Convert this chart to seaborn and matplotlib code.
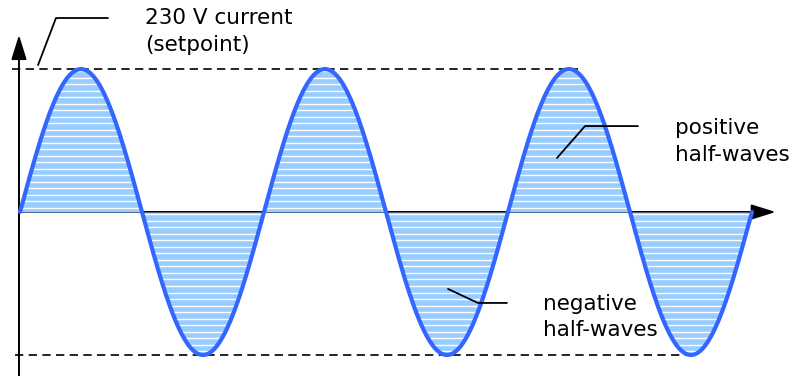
import numpy as np
import pandas as pd
import matplotlib.pyplot as plt
import seaborn as sns

# ---- values ----
cycles = 3                 # three full periods are drawn
setpoint = 1.0             # peak of the current, normalised to the setpoint
labels = ['230 V current\n(setpoint)', 'positive\nhalf-waves', 'negative\nhalf-waves']

phase = np.linspace(0, 360 * cycles, 1201)          # degrees
current = setpoint * np.sin(np.radians(phase))
df = pd.DataFrame({'phase': phase, 'current': current})

sns.set_style('white')
plt.rcParams['font.family'] = ['DejaVu Sans']

line_blue = '#3366ff'
fill_blue = '#99ccff'
ink = 'black'

fig = plt.figure(figsize=(7.94, 3.76), dpi=100)
ax = fig.add_axes([0, 0, 1, 1])

# light blue area with white horizontal stripes
fill = ax.fill_between(df['phase'], df['current'], 0, color=fill_blue, lw=0, zorder=2)
stripes = ax.hlines(np.arange(-1.2, 1.2, 0.0455), 0, 360 * cycles,
                    colors='white', lw=1.0, zorder=3)
stripes.set_clip_path(fill.get_paths()[0], ax.transData)

# the wave itself
sns.lineplot(data=df, x='phase', y='current', color=line_blue, lw=3,
             sort=False, estimator=None, ax=ax, zorder=4)

# axes drawn as arrows
arrow = dict(arrowstyle='-|>,head_length=1.5,head_width=0.47', color=ink, lw=1.4,
             shrinkA=0, shrinkB=0, mutation_scale=10)
ax.annotate('', xy=(-1.5, 1.238), xytext=(-1.5, -1.2), arrowprops=arrow, zorder=1)
ax.annotate('', xy=(1115, 0), xytext=(-1.5, 0), arrowprops=arrow, zorder=1)

# dashed setpoint lines
dash = (0, (5.0, 3.2))
ax.plot([-11.8, 823], [setpoint, setpoint], color=ink, lw=1.2, ls=dash, zorder=1)
ax.plot([-7.4, 999], [-setpoint, -setpoint], color=ink, lw=1.2, ls=dash, zorder=1)

# leader lines and labels
ax.plot([26.6, 53.1, 129.8], [1.028, 1.357, 1.357], color=ink, lw=1.3, zorder=5)
ax.plot([792.3, 833.6, 911.8], [0.378, 0.601, 0.601], color=ink, lw=1.3, zorder=5)
ax.plot([631.5, 675.7, 718.5], [-0.538, -0.636, -0.636], color=ink, lw=1.3, zorder=5)

text_kw = dict(fontsize=15.5, ha='left', va='center', linespacing=1.4, color=ink)
ax.text(184.4, 1.262, labels[0], **text_kw)
ax.text(966.4, 0.493, labels[1], **text_kw)
ax.text(771.6, -0.734, labels[2], **text_kw)

ax.set_xlim(-29.5, 1142)
ax.set_ylim(-1.147, 1.483)
ax.axis('off')

plt.savefig('out.png', dpi=100)
plt.close()
